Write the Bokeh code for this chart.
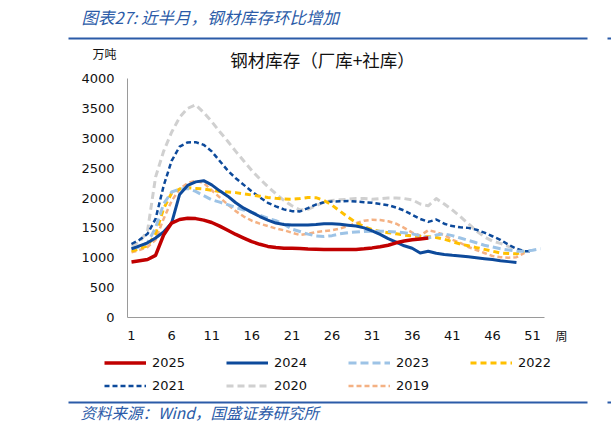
from bokeh.plotting import figure
from bokeh.models import Range1d, FixedTicker, Legend, LegendItem, LinearAxis
from bokeh.core.properties import value
from bokeh.embed import file_html
from bokeh.resources import INLINE

# ---------------- data (万吨, by week) ----------------
years = ["2025", "2024", "2023", "2022", "2021", "2020", "2019"]

y2025 = [930, 950, 970, 1040, 1380, 1580, 1640, 1660, 1655, 1630,
         1590, 1530, 1460, 1390, 1330, 1270, 1225, 1190, 1170, 1160,
         1158, 1155, 1145, 1142, 1140, 1140, 1140, 1140, 1140, 1150,
         1165, 1185, 1210, 1250, 1280, 1300, 1315, 1330]

y2024 = [1150, 1200, 1250, 1330, 1430, 1580, 2060, 2210, 2270, 2290,
         2220, 2120, 2030, 1920, 1830, 1760, 1690, 1630, 1580, 1555,
         1550, 1550, 1550, 1555, 1570, 1570, 1560, 1545, 1530, 1500,
         1450, 1390, 1320, 1260, 1200, 1160, 1080, 1110, 1075, 1055,
         1040, 1030, 1015, 1000, 985, 970, 950, 935, 920]

y2023 = [1160, 1180, 1250, 1500, 1900, 2100, 2150, 2160, 2110, 2040,
         1970, 1930, 1890, 1840, 1800, 1760, 1710, 1660, 1620, 1560,
         1480, 1440, 1395, 1365, 1355, 1370, 1400, 1420, 1430, 1440,
         1445, 1445, 1440, 1430, 1420, 1400, 1370, 1330, 1380, 1400,
         1370, 1330, 1290, 1250, 1210, 1180, 1150, 1130, 1110, 1110,
         1125, 1150]

y2022 = [1110, 1150, 1200, 1400, 1820, 2080, 2150, 2170, 2160, 2150,
         2130, 2110, 2100, 2090, 2070, 2050, 2030, 2010, 1995, 1985,
         1980, 1990, 2010, 2005, 1960, 1880, 1780, 1680, 1590, 1520,
         1470, 1440, 1420, 1400, 1380, 1365, 1355, 1350, 1340, 1310,
         1270, 1230, 1200, 1170, 1140, 1110, 1080, 1070, 1065, 1110]

y2021 = [1230, 1300, 1400, 1650, 2200, 2620, 2860, 2930, 2935, 2890,
         2780, 2620, 2460, 2330, 2220, 2110, 2010, 1920, 1860, 1810,
         1780, 1775, 1830, 1890, 1930, 1940, 1945, 1950, 1940, 1930,
         1920, 1900, 1880, 1840, 1790, 1720, 1650, 1600, 1640, 1570,
         1530, 1510, 1500, 1470, 1420, 1360, 1300, 1220, 1150, 1110,
         1110]

y2020 = [1200, 1260, 1450, 2350, 2780, 3100, 3350, 3500, 3560, 3430,
         3280, 3110, 2950, 2780, 2620, 2460, 2320, 2190, 2070, 1960,
         1870, 1800, 1810, 1870, 1930, 1960, 1970, 1980, 1990, 1990,
         1980, 1990, 2000, 2000, 1990, 1970, 1900, 1870, 1990, 1900,
         1800, 1690, 1570, 1450, 1350, 1280, 1240, 1190, 1140]

y2019 = [1090, 1130, 1180, 1300, 1650, 1950, 2150, 2250, 2290, 2250,
         2130, 2010, 1890, 1780, 1690, 1620, 1570, 1530, 1490, 1460,
         1420, 1380, 1400, 1430, 1445, 1460, 1490, 1530, 1580, 1620,
         1635, 1630, 1610, 1570, 1500, 1420, 1370, 1460, 1430, 1380,
         1300, 1250, 1180, 1130, 1080, 1030, 1010, 1000, 1010, 1080]

x_ticks = [1, 6, 11, 16, 21, 26, 31, 36, 41, 46, 51]
y_ticks = [0, 500, 1000, 1500, 2000, 2500, 3000, 3500, 4000]
week_first, week_last = 1, 52

header_text = "图表27:  近半月，钢材库存环比增加"
chart_title = "钢材库存（厂库+社库）"
unit_text = "万吨"
x_name = "周"
source_text = "资料来源：Wind，国盛证券研究所"

# ---------------- styles ----------------
DARK_BLUE = "#0D4A9B"
styles = {
    "2025": dict(color="#C00000", width=3.5, dash="solid"),
    "2024": dict(color=DARK_BLUE, width=3.0, dash="solid"),
    "2023": dict(color="#9DC3E6", width=3.0, dash="8 4"),
    "2022": dict(color="#FFC000", width=3.0, dash="6 4"),
    "2021": dict(color=DARK_BLUE, width=2.5, dash="5 3"),
    "2020": dict(color="#D0D0D0", width=3.0, dash="7 4"),
    "2019": dict(color="#F4B183", width=2.5, dash="5 3"),
}
series = {"2025": y2025, "2024": y2024, "2023": y2023, "2022": y2022,
          "2021": y2021, "2020": y2020, "2019": y2019}

BLUE = "#2B5BA8"
CJK = "Noto Sans CJK SC"
TXT = "#111111"
AX = "#9A9A9A"

W, H = 611, 430
# page layout of the plotting area (pixels)
PX_LEFT, PX_WEEK1, PX_PER_WEEK = 127, 131, 8.02
PY_ZERO, PY_TOP = 317, 78

# one canvas; the default ranges are page pixels (y downwards) for the decorations
p = figure(width=W, height=H, output_backend="svg", toolbar_location=None,
           x_range=Range1d(0, W), y_range=Range1d(H, 0), min_border=0,
           x_axis_type=None, y_axis_type=None)
p.outline_line_color = None
p.background_fill_color = "white"
p.border_fill_color = "white"

# data ranges placed onto the canvas
ton_per_px = (y_ticks[-1] - y_ticks[0]) / (PY_ZERO - PY_TOP)
p.extra_x_ranges = {"week": Range1d(1 - PX_WEEK1 / PX_PER_WEEK,
                                    1 + (W - PX_WEEK1) / PX_PER_WEEK)}
p.extra_y_ranges = {"ton": Range1d(-(H - PY_ZERO) * ton_per_px, PY_ZERO * ton_per_px)}

xaxis = LinearAxis(x_range_name="week", y_range_name="ton", fixed_location=0,
                   bounds=(week_first - 0.5, week_last + 0.5),
                   ticker=FixedTicker(ticks=x_ticks), major_label_standoff=13)
yaxis = LinearAxis(x_range_name="week", y_range_name="ton",
                   fixed_location=week_first - 0.5,
                   bounds=(y_ticks[0], y_ticks[-1]),
                   ticker=FixedTicker(ticks=y_ticks), major_label_standoff=13)
for ax in (xaxis, yaxis):
    ax.axis_line_color = AX
    ax.axis_line_width = 1
    ax.major_tick_line_color = None
    ax.minor_tick_line_color = None
    ax.major_tick_out = 0
    ax.major_tick_in = 0
    ax.major_label_text_font = "DejaVu Sans"
    ax.major_label_text_font_size = "13px"
    ax.major_label_text_color = TXT
p.add_layout(xaxis, "below")
p.add_layout(yaxis, "left")

renderers = {}
for yr in ["2019", "2020", "2021", "2022", "2023", "2024", "2025"]:
    vals = series[yr]
    st = styles[yr]
    weeks = list(range(1, len(vals) + 1))
    renderers[yr] = p.line(weeks, vals, x_range_name="week", y_range_name="ton",
                           line_color=st["color"], line_width=st["width"],
                           line_dash=st["dash"], line_join="round")

legend = Legend(items=[LegendItem(label=yr, renderers=[renderers[yr]]) for yr in years],
                location=(104, 36.5), orientation="horizontal", ncols=4,
                glyph_width=42, glyph_height=17, label_height=17, label_width=68,
                label_standoff=6, spacing=6, padding=0, margin=0,
                border_line_color=None, background_fill_alpha=0,
                label_text_font="DejaVu Sans", label_text_font_size="13px",
                label_text_color=TXT)
p.add_layout(legend)


def txt(x, y, s, size, color=TXT, style="normal", align="left", font=CJK):
    p.text(x=[x], y=[y], text=[s], text_font=value(font), text_font_size=value(size),
           text_color=color, text_font_style=style, text_align=align,
           text_baseline="middle")


# header, rules, titles, source
txt(81, 16, header_text, "16.5px", BLUE, style="italic")
p.segment(x0=[68, 607, 68, 607], y0=[38, 38, 402, 402],
          x1=[587, 611, 587, 611], y1=[38, 38, 402, 402],
          line_color=BLUE, line_width=2)
txt(92, 53, unit_text, "12px")
txt(322, 59, chart_title, "17.5px", align="center")
txt(561, 335, x_name, "12px", align="center")
txt(80, 411, source_text, "15.5px", BLUE, style="italic")

open("out.html", "w").write(file_html(p, INLINE))
